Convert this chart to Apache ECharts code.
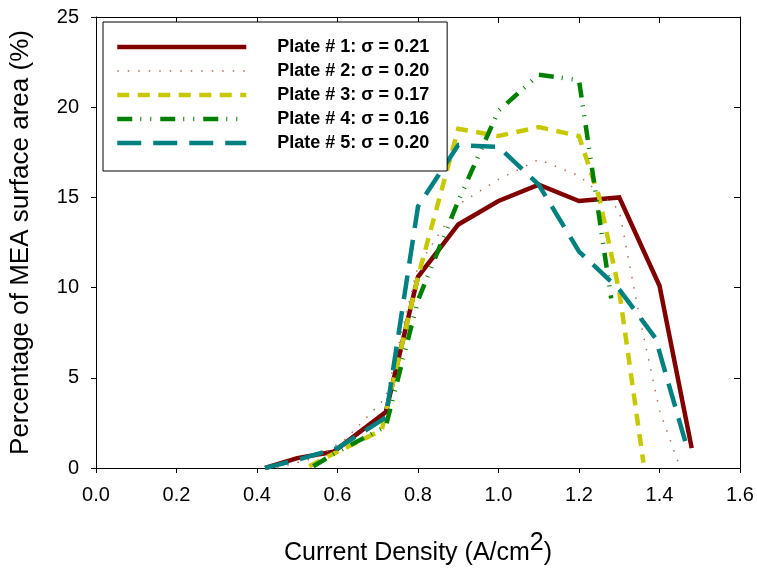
<!DOCTYPE html>
<html>
<head>
<meta charset="utf-8">
<script src="https://cdn.jsdelivr.net/npm/echarts@6/dist/echarts.min.js"></script>
<style>
html,body{margin:0;padding:0;background:#fff;}
#chart{width:757px;height:571px;}
</style>
</head>
<body>
<div id="chart"></div>
<script>
// ---- data ----
var seriesNames = ['Plate # 1: \u03c3 = 0.21', 'Plate # 2: \u03c3 = 0.20', 'Plate # 3: \u03c3 = 0.17', 'Plate # 4: \u03c3 = 0.16', 'Plate # 5: \u03c3 = 0.20'];

var plate1X = [0.42, 0.50, 0.59, 0.72, 0.80, 0.90, 1.00, 1.10, 1.20, 1.30, 1.40, 1.48];
var plate1Y = [0.0, 0.55, 0.9, 3.1, 10.6, 13.5, 14.8, 15.7, 14.8, 15.0, 10.1, 1.1];

var plate2X = [0.45, 0.55, 0.62, 0.72, 0.80, 0.90, 1.00, 1.10, 1.20, 1.30, 1.35, 1.40, 1.45];
var plate2Y = [0.0, 0.6, 1.6, 3.9, 11.2, 14.6, 16.0, 17.1, 16.2, 14.3, 8.4, 3.2, 0.1];

var plate3X = [0.53, 0.60, 0.71, 0.80, 0.90, 1.00, 1.10, 1.20, 1.25, 1.30, 1.36];
var plate3Y = [0.1, 0.9, 2.1, 10.6, 18.8, 18.4, 18.9, 18.4, 15.0, 9.8, 0.3];

var plate4X = [0.54, 0.60, 0.72, 0.80, 0.90, 1.00, 1.10, 1.20, 1.28];
var plate4Y = [0.1, 0.9, 2.3, 9.3, 14.8, 19.8, 21.8, 21.5, 9.4];

var plate5X = [0.42, 0.50, 0.60, 0.72, 0.80, 0.90, 1.00, 1.10, 1.20, 1.30, 1.39, 1.47];
var plate5Y = [0.0, 0.45, 1.1, 2.8, 14.5, 17.9, 17.8, 15.7, 12.0, 9.9, 7.2, 1.0];

var xTicks = { min: 0, max: 1.6, step: 0.2 };
var yTicks = { min: 0, max: 25, step: 5 };

function pairs(xs, ys) { return xs.map(function (x, i) { return [x, ys[i]]; }); }

var FONT = '"Liberation Sans", Arial, sans-serif';

var styles = [
  { color: '#800000', width: 4.5, type: 'solid' },
  { color: '#b07050', width: 1.5, type: [1.5, 9] },
  { color: '#c8c800', width: 4.5, type: [12, 8.5] },
  { color: '#008000', width: 4.5, type: [15, 8, 1, 9, 1, 9] },
  { color: '#008080', width: 4.5, type: [24, 12] }
];
var dataSets = [pairs(plate1X, plate1Y), pairs(plate2X, plate2Y), pairs(plate3X, plate3Y), pairs(plate4X, plate4Y), pairs(plate5X, plate5Y)];

var series = dataSets.map(function (d, i) {
  return {
    name: seriesNames[i],
    type: 'line',
    data: d,
    symbol: 'none',
    animation: false,
    lineStyle: { color: styles[i].color, width: styles[i].width, type: styles[i].type, cap: 'butt', join: 'miter' },
    itemStyle: { color: styles[i].color }
  };
});

var legendData = seriesNames.map(function (n, i) {
  return {
    name: n,
    itemStyle: { opacity: 0 },
    lineStyle: { color: styles[i].color, width: styles[i].width, type: styles[i].type, cap: 'butt', opacity: 1 }
  };
});

var chart = echarts.init(document.getElementById('chart'), null, { renderer: 'canvas' });
chart.setOption({
  animation: false,
  backgroundColor: '#ffffff',
  grid: { left: 94, right: 17, top: 17, bottom: 102, containLabel: false },
  legend: {
    data: legendData,
    orient: 'vertical',
    left: 103,
    top: 22,
    padding: [16, 18, 19, 12],
    itemWidth: 129,
    itemHeight: 14,
    itemGap: 6,
    borderColor: '#000',
    borderWidth: 1,
    backgroundColor: '#fff',
    selectedMode: false,
    textStyle: { fontFamily: FONT, fontSize: 18, lineHeight: 18, fontWeight: 'bold', color: '#000', padding: [0, 0, 0, 26] }
  },
  xAxis: [
    {
      type: 'value', min: xTicks.min, max: xTicks.max, interval: xTicks.step,
      name: '{a|Current Density (A/cm}{b|2}{a|)}',
      nameLocation: 'middle', nameGap: 64,
      nameTextStyle: {
        rich: {
          a: { fontFamily: FONT, fontSize: 25, color: '#000', verticalAlign: 'bottom', lineHeight: 34 },
          b: { fontFamily: FONT, fontSize: 25, color: '#000', verticalAlign: 'bottom', lineHeight: 34, padding: [0, 0, 10, 0] }
        }
      },
      axisLine: { show: true, onZero: false, lineStyle: { color: '#000', width: 1 } },
      axisTick: { show: true, inside: false, length: 5, lineStyle: { color: '#000' } },
      axisLabel: { fontFamily: FONT, fontSize: 20, color: '#000', margin: 17, formatter: function (v) { return v.toFixed(1); } },
      splitLine: { show: false }
    },
    {
      type: 'value', position: 'top', min: xTicks.min, max: xTicks.max, interval: xTicks.step,
      axisLine: { show: true, onZero: false, lineStyle: { color: '#000', width: 1 } },
      axisTick: { show: true, inside: true, length: 6, lineStyle: { color: '#000' } },
      axisLabel: { show: false },
      splitLine: { show: false }
    }
  ],
  yAxis: [
    {
      type: 'value', min: yTicks.min, max: yTicks.max, interval: yTicks.step,
      name: 'Percentage of MEA surface area (%)',
      nameLocation: 'middle', nameGap: 62,
      nameTextStyle: { fontFamily: FONT, fontSize: 26, color: '#000' },
      axisLine: { show: true, onZero: false, lineStyle: { color: '#000', width: 1 } },
      axisTick: { show: true, inside: false, length: 5, lineStyle: { color: '#000' } },
      axisLabel: { fontFamily: FONT, fontSize: 20, color: '#000', margin: 17 },
      splitLine: { show: false }
    },
    {
      type: 'value', position: 'right', min: yTicks.min, max: yTicks.max, interval: yTicks.step,
      axisLine: { show: true, onZero: false, lineStyle: { color: '#000', width: 1 } },
      axisTick: { show: true, inside: true, length: 6, lineStyle: { color: '#000' } },
      axisLabel: { show: false },
      splitLine: { show: false }
    }
  ],
  series: series
});
</script>
</body>
</html>
